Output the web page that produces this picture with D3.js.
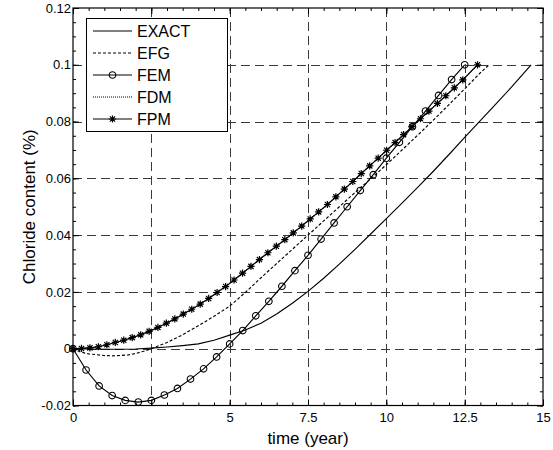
<!DOCTYPE html>
<html><head><meta charset="utf-8">
<script src="https://cdn.jsdelivr.net/npm/d3@7"></script>
<style>body{margin:0;background:#fff}svg{display:block}</style>
</head><body><svg id="c" width="553" height="450"></svg>
<script>
// ---- data ----
const seriesNames = ["EXACT", "EFG", "FEM", "FDM", "FPM"];

const exactT = [0,0.5,1,1.5,2,2.5,3,3.5,4,4.5,5,5.5,6,6.5,7,7.5,8,8.5,9,9.5,10,10.5,11,11.5,12,12.5,13,13.5,14,14.62];
const exactV = [0,-0.0001,-0.0002,-0.0002,-0.0001,0.0002,0.0006,0.0011,0.0017,0.0030,0.0048,0.0066,0.0090,0.0122,0.0160,0.0202,0.0248,0.0298,0.0350,0.0404,0.0458,0.0513,0.0568,0.0625,0.0684,0.0744,0.0803,0.0862,0.0922,0.1000];

const efgT = [0,0.25,0.5,0.75,1,1.25,1.5,1.75,2,2.25,2.5,3,3.5,4,4.5,5,5.5,6,6.5,7,7.5,8,8.5,9,9.5,10,10.5,11,11.5,12,12.5,13,13.28];
const efgV = [0,-0.0012,-0.0018,-0.0021,-0.0024,-0.0025,-0.0024,-0.0022,-0.0017,-0.0009,0.0000,0.0022,0.0049,0.0081,0.0114,0.0150,0.0198,0.0250,0.0300,0.0350,0.0400,0.0450,0.0500,0.0550,0.0598,0.0648,0.0700,0.0752,0.0805,0.0860,0.0915,0.0972,0.1000];

const femT = [0,0.417,0.833,1.25,1.667,2.083,2.5,2.917,3.333,3.75,4.167,4.583,5,5.417,5.833,6.25,6.667,7.083,7.5,7.917,8.333,8.75,9.167,9.583,10,10.417,10.833,11.25,11.667,12.083,12.5];
const femV = [0,-0.0075,-0.0131,-0.0165,-0.0182,-0.0188,-0.0182,-0.0163,-0.0140,-0.0107,-0.0071,-0.0029,0.0017,0.0064,0.0116,0.0167,0.0220,0.0275,0.0329,0.0386,0.0443,0.0500,0.0557,0.0613,0.0671,0.0727,0.0782,0.0837,0.0892,0.0948,0.1000];

const fpmT = [0,0.27,0.54,0.81,1.08,1.35,1.62,1.89,2.16,2.43,2.71,2.98,3.25,3.52,3.79,4.06,4.33,4.60,4.87,5.14,5.41,5.68,5.95,6.22,6.49,6.76,7.03,7.30,7.57,7.84,8.12,8.39,8.66,8.93,9.20,9.47,9.74,10.01,10.28,10.55,10.82,11.09,11.36,11.63,11.90,12.17,12.44,12.91];
const fpmV = [0,0.0001,0.0003,0.0007,0.0014,0.0022,0.0030,0.0039,0.0049,0.0061,0.0075,0.0090,0.0105,0.0122,0.0139,0.0157,0.0177,0.0198,0.0219,0.0242,0.0266,0.0290,0.0314,0.0338,0.0361,0.0384,0.0408,0.0432,0.0457,0.0482,0.0508,0.0535,0.0562,0.0589,0.0617,0.0644,0.0671,0.0699,0.0726,0.0754,0.0782,0.0810,0.0837,0.0864,0.0891,0.0919,0.0947,0.1000];

const fdmT = fpmT.slice();
const fdmV = fpmV.slice();

const xMajor = [0,2.5,5,7.5,10,12.5,15];
const xMajorLabels = ["0","","5","7.5","10","12.5","15"];
const yMajor = [-0.02,0,0.02,0.04,0.06,0.08,0.1,0.12];
const yMajorLabels = ["-0.02","0","0.02","0.04","0.06","0.08","0.1","0.12"];
const xGrid = [2.5,5,7.5,10,12.5];
const yGrid = [0,0.02,0.04,0.06,0.08,0.1];
const xMinor = d3.range(0, 15.01, 0.5);
const yMinor = d3.range(-0.02, 0.1201, 0.005);

// ---- drawing ----
const L = 73, R = 543, T = 8, B = 405.5;
const svg = d3.select('#c');
const x = d3.scaleLinear().domain([0,15]).range([L,R]);
const y = d3.scaleLinear().domain([-0.02,0.12]).range([B,T]);
const font = "'Liberation Sans', Arial, sans-serif";

// grid
const g = svg.append('g');
g.selectAll('.vg').data(xGrid).enter().append('line')
  .attr('x1', d=>Math.round(x(d))+0.5).attr('x2', d=>Math.round(x(d))+0.5)
  .attr('y1', T).attr('y2', B)
  .attr('stroke','#3a3a3a').attr('stroke-width',1).attr('stroke-dasharray','9,5');
g.selectAll('.hg').data(yGrid).enter().append('line')
  .attr('y1', d=>Math.round(y(d))+0.5).attr('y2', d=>Math.round(y(d))+0.5)
  .attr('x1', L).attr('x2', R)
  .attr('stroke','#3a3a3a').attr('stroke-width',1).attr('stroke-dasharray','9,5');

// axes (inward ticks)
function styleAxis(sel){
  sel.select('.domain').remove();
  sel.selectAll('line').attr('stroke','#000');
  sel.selectAll('text').attr('font-family', font).attr('font-size', 13).attr('fill','#000');
}
const xb = svg.append('g').attr('transform',`translate(0,${B})`)
  .call(d3.axisBottom(x).tickValues(xMajor).tickSizeInner(-6).tickSizeOuter(0).tickPadding(7)
    .tickFormat((d,i)=>xMajorLabels[i]));
styleAxis(xb);
const xbm = svg.append('g').attr('transform',`translate(0,${B})`)
  .call(d3.axisBottom(x).tickValues(xMinor).tickSizeInner(-3).tickSizeOuter(0).tickFormat(''));
styleAxis(xbm);
const xt = svg.append('g').attr('transform',`translate(0,${T})`)
  .call(d3.axisTop(x).tickValues(xMajor).tickSizeInner(-6).tickSizeOuter(0).tickFormat(''));
styleAxis(xt);
const xtm = svg.append('g').attr('transform',`translate(0,${T})`)
  .call(d3.axisTop(x).tickValues(xMinor).tickSizeInner(-3).tickSizeOuter(0).tickFormat(''));
styleAxis(xtm);
const yl = svg.append('g').attr('transform',`translate(${L},0)`)
  .call(d3.axisLeft(y).tickValues(yMajor).tickSizeInner(-6).tickSizeOuter(0).tickPadding(2)
    .tickFormat((d,i)=>yMajorLabels[i]));
styleAxis(yl);
const ylm = svg.append('g').attr('transform',`translate(${L},0)`)
  .call(d3.axisLeft(y).tickValues(yMinor).tickSizeInner(-3).tickSizeOuter(0).tickFormat(''));
styleAxis(ylm);
const yr = svg.append('g').attr('transform',`translate(${R},0)`)
  .call(d3.axisRight(y).tickValues(yMajor).tickSizeInner(-6).tickSizeOuter(0).tickFormat(''));
styleAxis(yr);
const yrm = svg.append('g').attr('transform',`translate(${R},0)`)
  .call(d3.axisRight(y).tickValues(yMinor).tickSizeInner(-3).tickSizeOuter(0).tickFormat(''));
styleAxis(yrm);

// series
const line = d3.line().x(d=>x(d[0])).y(d=>y(d[1]));
const zip = (a,b)=>a.map((t,i)=>[t,b[i]]);
const plot = svg.append('g');
const styles = {
  EXACT:{data:zip(exactT,exactV), dash:null, marker:null},
  EFG:{data:zip(efgT,efgV), dash:'3,2', marker:null},
  FEM:{data:zip(femT,femV), dash:null, marker:'circle'},
  FDM:{data:zip(fdmT,fdmV), dash:'1,1', marker:null},
  FPM:{data:zip(fpmT,fpmV), dash:null, marker:'star'}
};
const starPath = "M-3.6,0H3.6M0,-3.6V3.6M-2.6,-2.6L2.6,2.6M-2.6,2.6L2.6,-2.6";
function drawMarker(sel, type){
  if(type==='circle'){
    sel.append('circle').attr('r',3.3).attr('fill','none').attr('stroke','#000').attr('stroke-width',1.1);
  } else if(type==='star'){
    sel.append('path').attr('d',starPath).attr('fill','none').attr('stroke','#000').attr('stroke-width',1.2);
  }
}
seriesNames.forEach(n=>{
  const s = styles[n];
  plot.append('path').datum(s.data).attr('d',line).attr('fill','none')
    .attr('stroke','#000').attr('stroke-width',1.15)
    .attr('stroke-dasharray', s.dash);
  if(s.marker){
    plot.selectAll(null).data(s.data).enter().append('g')
      .attr('transform',d=>`translate(${x(d[0])},${y(d[1])})`)
      .each(function(){ drawMarker(d3.select(this), s.marker); });
  }
});

// frame
svg.append('rect').attr('x',L).attr('y',T).attr('width',R-L).attr('height',B-T)
  .attr('fill','none').attr('stroke','#000').attr('stroke-width',1.2);

// legend
const lg = svg.append('g');
lg.append('rect').attr('x',86.5).attr('y',18.5).attr('width',141).attr('height',113)
  .attr('fill','#fff').attr('stroke','#000').attr('stroke-width',1);
seriesNames.forEach((n,i)=>{
  const cy = 31 + i*22;
  const s = styles[n];
  lg.append('line').attr('x1',93).attr('x2',132).attr('y1',cy).attr('y2',cy)
    .attr('stroke','#000').attr('stroke-width',1.15).attr('stroke-dasharray', s.dash);
  if(s.marker){
    const m = lg.append('g').attr('transform',`translate(112.5,${cy})`);
    drawMarker(m, s.marker);
  }
  lg.append('text').attr('x',137).attr('y',cy+5.8).text(n)
    .attr('font-family',font).attr('font-size',16).attr('fill','#000');
});

// axis titles
svg.append('text').attr('x',(L+R)/2).attr('y',444).attr('text-anchor','middle')
  .attr('font-family',font).attr('font-size',17).text('time (year)');
svg.append('text').attr('transform',`translate(35,${(T+B)/2}) rotate(-90)`)
  .attr('text-anchor','middle').attr('font-family',font).attr('font-size',17)
  .text('Chloride content (%)');
</script></body></html>
